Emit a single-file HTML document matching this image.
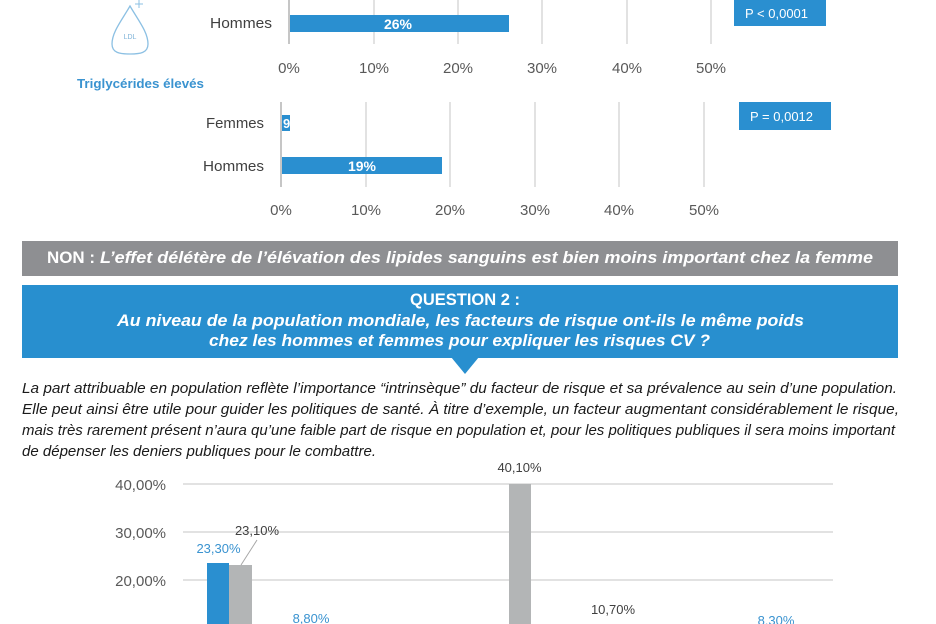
<!DOCTYPE html>
<html>
<head>
<meta charset="utf-8">
<style>
html,body{margin:0;padding:0;background:#fff;}
svg{display:block;}
text{font-family:"Liberation Sans",sans-serif;}
</style>
</head>
<body>
<svg width="936" height="624" viewBox="0 0 936 624" xmlns="http://www.w3.org/2000/svg">
<rect width="936" height="624" fill="#fff"/>

<!-- Drop icon -->
<path d="M130,6 C122,20 112,32 112,44 C112,53 120,54 130,54 C140,54 148,53 148,44 C148,32 138,20 130,6 Z" fill="none" stroke="#8cc0e3" stroke-width="1.3"/>
<line x1="139" y1="0" x2="139" y2="8" stroke="#8cc0e3" stroke-width="1"/>
<line x1="135" y1="4" x2="143" y2="4" stroke="#8cc0e3" stroke-width="1"/>
<text x="130" y="39" font-size="7" fill="#7fb3d8" text-anchor="middle">LDL</text>

<!-- Top chart -->
<g stroke="#d9d9d9" stroke-width="1.5">
<line x1="374" y1="0" x2="374" y2="44"/>
<line x1="458" y1="0" x2="458" y2="44"/>
<line x1="542" y1="0" x2="542" y2="44"/>
<line x1="627" y1="0" x2="627" y2="44"/>
<line x1="711" y1="0" x2="711" y2="44"/>
</g>
<line x1="289" y1="0" x2="289" y2="44" stroke="#bfbfbf" stroke-width="1.8"/>
<rect x="290" y="15" width="219" height="17" fill="#2a8fd0"/>
<text x="398" y="29" font-size="14" font-weight="bold" fill="#fff" text-anchor="middle">26%</text>
<text x="210" y="28" font-size="15" fill="#404040" textLength="62" lengthAdjust="spacingAndGlyphs">Hommes</text>
<g font-size="15" fill="#595959" text-anchor="middle">
<text x="289" y="73">0%</text>
<text x="374" y="73">10%</text>
<text x="458" y="73">20%</text>
<text x="542" y="73">30%</text>
<text x="627" y="73">40%</text>
<text x="711" y="73">50%</text>
</g>
<rect x="734" y="0" width="92" height="26" fill="#2a8fd0"/>
<text x="745" y="18" font-size="13" fill="#fff">P &lt; 0,0001</text>

<text x="77" y="88" font-size="13" font-weight="bold" fill="#3a93d0" textLength="127" lengthAdjust="spacingAndGlyphs">Triglycérides élevés</text>

<!-- Second chart -->
<g stroke="#d9d9d9" stroke-width="1.5">
<line x1="366" y1="102" x2="366" y2="187"/>
<line x1="450" y1="102" x2="450" y2="187"/>
<line x1="535" y1="102" x2="535" y2="187"/>
<line x1="619" y1="102" x2="619" y2="187"/>
<line x1="704" y1="102" x2="704" y2="187"/>
</g>
<line x1="281" y1="102" x2="281" y2="187" stroke="#bfbfbf" stroke-width="1.8"/>
<rect x="282" y="115" width="8" height="16" fill="#2a8fd0"/>
<text x="283" y="128" font-size="13" font-weight="bold" fill="#fff">9</text>
<rect x="282" y="157" width="160" height="17" fill="#2a8fd0"/>
<text x="362" y="171" font-size="14" font-weight="bold" fill="#fff" text-anchor="middle">19%</text>
<text x="206" y="128" font-size="15" fill="#404040" textLength="58" lengthAdjust="spacingAndGlyphs">Femmes</text>
<text x="203" y="171" font-size="15" fill="#404040" textLength="61" lengthAdjust="spacingAndGlyphs">Hommes</text>
<g font-size="15" fill="#595959" text-anchor="middle">
<text x="281" y="215">0%</text>
<text x="366" y="215">10%</text>
<text x="450" y="215">20%</text>
<text x="535" y="215">30%</text>
<text x="619" y="215">40%</text>
<text x="704" y="215">50%</text>
</g>
<rect x="739" y="102" width="92" height="28" fill="#2a8fd0"/>
<text x="750" y="121" font-size="13" fill="#fff">P = 0,0012</text>

<!-- NON banner -->
<rect x="22" y="241" width="876" height="35" fill="#8e8f92"/>
<text x="47" y="263" font-size="17" font-weight="bold" fill="#fff" textLength="48" lengthAdjust="spacingAndGlyphs">NON :</text>
<text x="100" y="263" font-size="17" font-weight="bold" font-style="italic" fill="#fff" textLength="773" lengthAdjust="spacingAndGlyphs">L’effet délétère de l’élévation des lipides sanguins est bien moins important chez la femme</text>

<!-- Question banner -->
<rect x="22" y="285" width="876" height="73" fill="#288fcf"/>
<polygon points="451,357 479,357 465,374" fill="#288fcf"/>
<text x="465" y="305" font-size="17" font-weight="bold" fill="#fff" text-anchor="middle" textLength="110" lengthAdjust="spacingAndGlyphs">QUESTION 2 :</text>
<text x="117" y="326" font-size="17" font-weight="bold" font-style="italic" fill="#fff" textLength="687" lengthAdjust="spacingAndGlyphs">Au niveau de la population mondiale, les facteurs de risque ont-ils le même poids</text>
<text x="209" y="346" font-size="17" font-weight="bold" font-style="italic" fill="#fff" textLength="501" lengthAdjust="spacingAndGlyphs">chez les hommes et femmes pour expliquer les risques CV ?</text>

<!-- Paragraph -->
<g font-size="15" font-style="italic" fill="#1a1a1a">
<text x="22" y="393" textLength="875" lengthAdjust="spacingAndGlyphs">La part attribuable en population reflète l’importance “intrinsèque” du facteur de risque et sa prévalence au sein d’une population.</text>
<text x="22" y="414" textLength="877" lengthAdjust="spacingAndGlyphs">Elle peut ainsi être utile pour guider les politiques de santé. À titre d’exemple, un facteur augmentant considérablement le risque,</text>
<text x="22" y="435" textLength="873" lengthAdjust="spacingAndGlyphs">mais très rarement présent n’aura qu’une faible part de risque en population et, pour les politiques publiques il sera moins important</text>
<text x="22" y="456" textLength="354" lengthAdjust="spacingAndGlyphs">de dépenser les deniers publiques pour le combattre.</text>
</g>

<!-- Bottom chart -->
<g stroke="#d9d9d9" stroke-width="1.5">
<line x1="183" y1="484" x2="833" y2="484"/>
<line x1="183" y1="532" x2="833" y2="532"/>
<line x1="183" y1="580" x2="833" y2="580"/>
<line x1="183" y1="628" x2="833" y2="628"/>
</g>
<g font-size="15" fill="#595959" text-anchor="end">
<text x="166" y="490">40,00%</text>
<text x="166" y="538">30,00%</text>
<text x="166" y="586">20,00%</text>
<text x="166" y="634">10,00%</text>
</g>
<rect x="207" y="563" width="22" height="61" fill="#2a8fd0"/>
<rect x="229" y="565" width="23" height="59" fill="#b3b5b6"/>
<rect x="509" y="484" width="22" height="140" fill="#b3b5b6"/>
<line x1="257" y1="540" x2="241" y2="565" stroke="#a6a6a6" stroke-width="1"/>
<g font-size="13" text-anchor="middle">
<text x="218.5" y="553" fill="#3a93d0">23,30%</text>
<text x="257" y="535" fill="#404040">23,10%</text>
<text x="311" y="623" fill="#3a93d0">8,80%</text>
<text x="519.5" y="472" fill="#404040">40,10%</text>
<text x="613" y="614" fill="#404040">10,70%</text>
<text x="776" y="625" fill="#3a93d0">8,30%</text>
</g>
</svg>
</body>
</html>
